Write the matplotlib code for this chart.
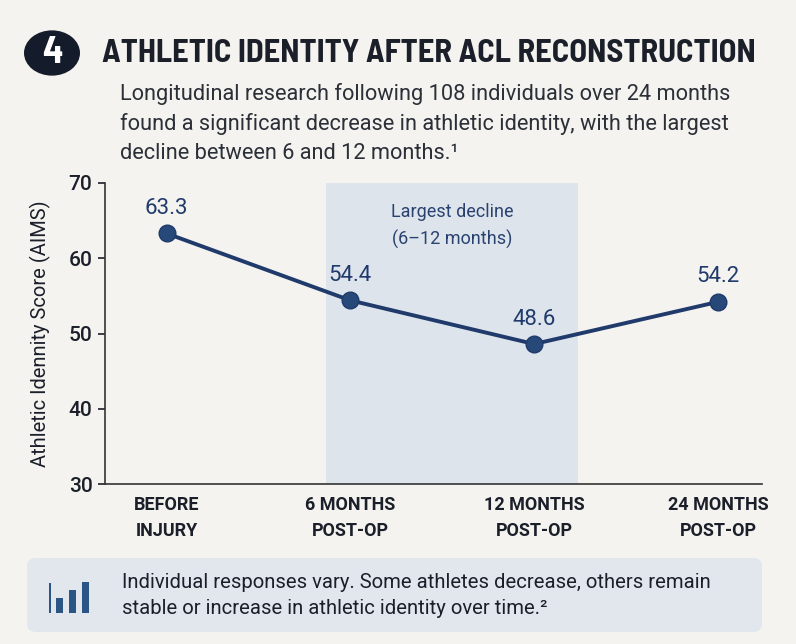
import matplotlib
matplotlib.use("Agg")
import matplotlib.pyplot as plt
from matplotlib.patches import Circle, FancyBboxPatch, Rectangle

# data
stages = ['BEFORE\nINJURY', '6 MONTHS\nPOST-OP', '12 MONTHS\nPOST-OP', '24 MONTHS\nPOST-OP']
aims_scores = [63.3, 54.4, 48.6, 54.2]
decline_span = (0.87, 2.24)
yticks = [30, 40, 50, 60, 70]
icon_bars = [15, 23, 31]

title = 'ATHLETIC IDENTITY AFTER ACL RECONSTRUCTION'
subtitle = ['Longitudinal research following 108 individuals over 24 months',
            'found a significant decrease in athletic identity, with the largest',
            'decline between 6 and 12 months.\u00b9']
note = ['Individual responses vary. Some athletes decrease, others remain',
        'stable or increase in athletic identity over time.\u00b2']

bg = '#f4f3ef'
navy = '#1f3a6b'
dark = '#1b1f2a'
cond = ['Barlow Semi Condensed', 'DejaVu Sans']

plt.rcParams['font.family'] = ['Roboto', 'DejaVu Sans']

fig = plt.figure(figsize=(7.96, 6.44), dpi=100, facecolor=bg)

# header
fig.patches.append(Circle((52 / 796, 1 - 53 / 644), 28 / 796, transform=fig.transFigure,
                          facecolor='#141c2b', edgecolor='none'))
fig.text(52 / 796, 1 - 53 / 644, '4', fontsize=27, fontweight='bold', color='white',
         ha='center', va='center', family=cond)
fig.text(102 / 796, 1 - 53 / 644, title, fontsize=23.4, fontweight='bold', color=dark,
         ha='left', va='center', family=cond)
for i, line in enumerate(subtitle):
    fig.text(120 / 796, 1 - (94 + 30 * i) / 644, line, fontsize=15.7, color='#2b2f38',
             ha='left', va='center')

# chart
ax = fig.add_axes([105 / 796, 160 / 644, 657 / 796, 301 / 644])
ax.set_facecolor('none')
x = list(range(len(stages)))
ax.axvspan(decline_span[0], decline_span[1], color='#dde4ec', zorder=0, lw=0)
ax.text(sum(decline_span) / 2, 64.3, 'Largest decline\n(6\u201312 months)', ha='center', va='center',
        fontsize=13, color='#2a4270', linespacing=1.6)
ax.plot(x, aims_scores, color=navy, lw=2.8, marker='o', markersize=12,
        markerfacecolor='#26497a', markeredgecolor=navy, zorder=3)
for xi, v in zip(x, aims_scores):
    ax.annotate(f'{v:.1f}', (xi, v), xytext=(0, 18), textcoords='offset points',
                ha='center', va='center', fontsize=16, color=navy)

ax.set_xlim(-0.335, 3.24)
ax.set_ylim(30, 70)
ax.set_yticks(yticks)
ax.set_xticks(x)
ax.set_xticklabels(stages, fontsize=13, fontweight='bold', color=dark, linespacing=1.55)
ax.tick_params(axis='x', length=0, pad=9)
ax.tick_params(axis='y', labelsize=15, colors=dark, length=5, width=1.2, pad=4)
for lab in ax.get_yticklabels():
    lab.set_fontweight('medium')
ax.spines['top'].set_visible(False)
ax.spines['right'].set_visible(False)
ax.spines['left'].set_color('#333333')
ax.spines['bottom'].set_color('#333333')
ax.spines['left'].set_linewidth(1.2)
ax.spines['bottom'].set_linewidth(1.2)
ax.set_ylabel('Athletic Idennity Score (AIMS)', fontsize=14.5, color=dark, labelpad=13)

# footer note
fig.patches.append(FancyBboxPatch((27 / 796, 12 / 644), 735 / 796, 74 / 644,
                                  boxstyle='round,pad=0,rounding_size=0.012',
                                  transform=fig.transFigure, facecolor='#e2e7ee',
                                  edgecolor='none'))
for i, h in enumerate(icon_bars):
    fig.patches.append(Rectangle(((56 + i * 13) / 796, 31 / 644), 7 / 796, h / 644,
                                 transform=fig.transFigure, facecolor='#2b5585',
                                 edgecolor='none'))
fig.patches.append(Rectangle((49 / 796, 31 / 644), 2 / 796, 30 / 644,
                             transform=fig.transFigure, facecolor='#2b5585', edgecolor='none'))
for i, line in enumerate(note):
    fig.text(122 / 796, 1 - (583 + 25 * i) / 644, line, fontsize=14.6, color=dark,
             ha='left', va='center')

fig.savefig('out.png', dpi=100, facecolor=bg)
